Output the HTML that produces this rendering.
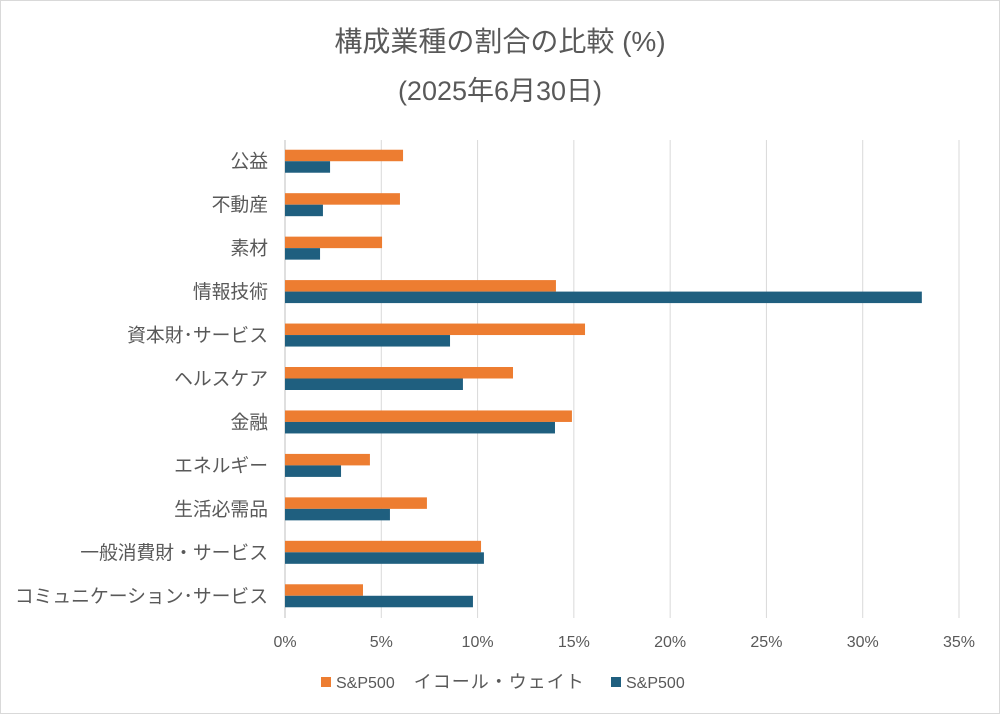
<!DOCTYPE html>
<html><head><meta charset="utf-8"><style>
body{margin:0;background:#fff;}
svg{display:block;font-family:"Liberation Sans","Noto Sans CJK JP",sans-serif;}
</style></head><body>
<svg id="c" width="1000" height="714">
<rect x="0.5" y="0.5" width="999" height="713" fill="#fff" stroke="#d9d9d9"/>
<text x="500" y="51" text-anchor="middle" font-size="28" fill="#595959">構成業種の割合の比較 (%)</text>
<text x="500" y="100" text-anchor="middle" font-size="27" fill="#595959">(2025年6月30日)</text>
<g id="grid"></g><g id="bars"></g><g id="labels"></g>
<g>
<rect x="321" y="677" width="10" height="10" fill="#ed7d31"/>
<text x="336" y="688" font-size="16" fill="#595959">S&amp;P500<tspan font-size="18" letter-spacing="1">　イコール・ウェイト</tspan></text>
<rect x="611" y="677" width="10" height="10" fill="#1f5f7f"/>
<text x="626" y="688" font-size="16" fill="#595959">S&amp;P500</text>
</g>
</svg>
<script>
const categories=["公益","不動産","素材","情報技術","資本財･サービス","ヘルスケア","金融","エネルギー","生活必需品","一般消費財・サービス","コミュニケーション･サービス"];
const equalWeight=[6.13,5.97,5.04,14.07,15.58,11.84,14.9,4.41,7.37,10.18,4.05];
const sp500=[2.34,1.97,1.82,33.07,8.57,9.24,14.02,2.91,5.45,10.33,9.76];
const ticks=[0,5,10,15,20,25,30,35];
const ns="http://www.w3.org/2000/svg";
const x0=285,x1=959,y0=140,y1=618,max=35;
const X=v=>x0+(x1-x0)*v/max;
const band=(y1-y0)/categories.length;
const Y=i=>y0+band*i;
function mk(t,a,p){const e=document.createElementNS(ns,t);for(const k in a)e.setAttribute(k,a[k]);p.appendChild(e);return e;}
const g=document.getElementById('grid'),b=document.getElementById('bars'),l=document.getElementById('labels');
ticks.forEach(t=>{
 const ln=mk('line',{x1:X(t),x2:X(t),y1:y0,y2:y1,stroke:t===0?'#bfbfbf':'#d9d9d9','stroke-width':1},g);
 
 
 const tx=mk('text',{x:X(t),y:647,'text-anchor':'middle','font-size':16,fill:'#595959'},l);
 tx.textContent=t+'%';
 
 
});
categories.forEach((c,i)=>{
 const cy=Y(i)+band/2, h=11.5;
 const r1=mk('rect',{x:x0,y:cy-h-0.5,width:X(equalWeight[i])-x0,height:h,fill:'#ed7d31'},b);
 
 
 const r2=mk('rect',{x:x0,y:cy-0.5,width:X(sp500[i])-x0,height:h,fill:'#1f5f7f'},b);
 
 
 const t=mk('text',{x:268,y:cy+6,'text-anchor':'end','font-size':18.8,fill:'#595959'},l);
 t.textContent=c;
 
 
});
</script>
</body></html>
